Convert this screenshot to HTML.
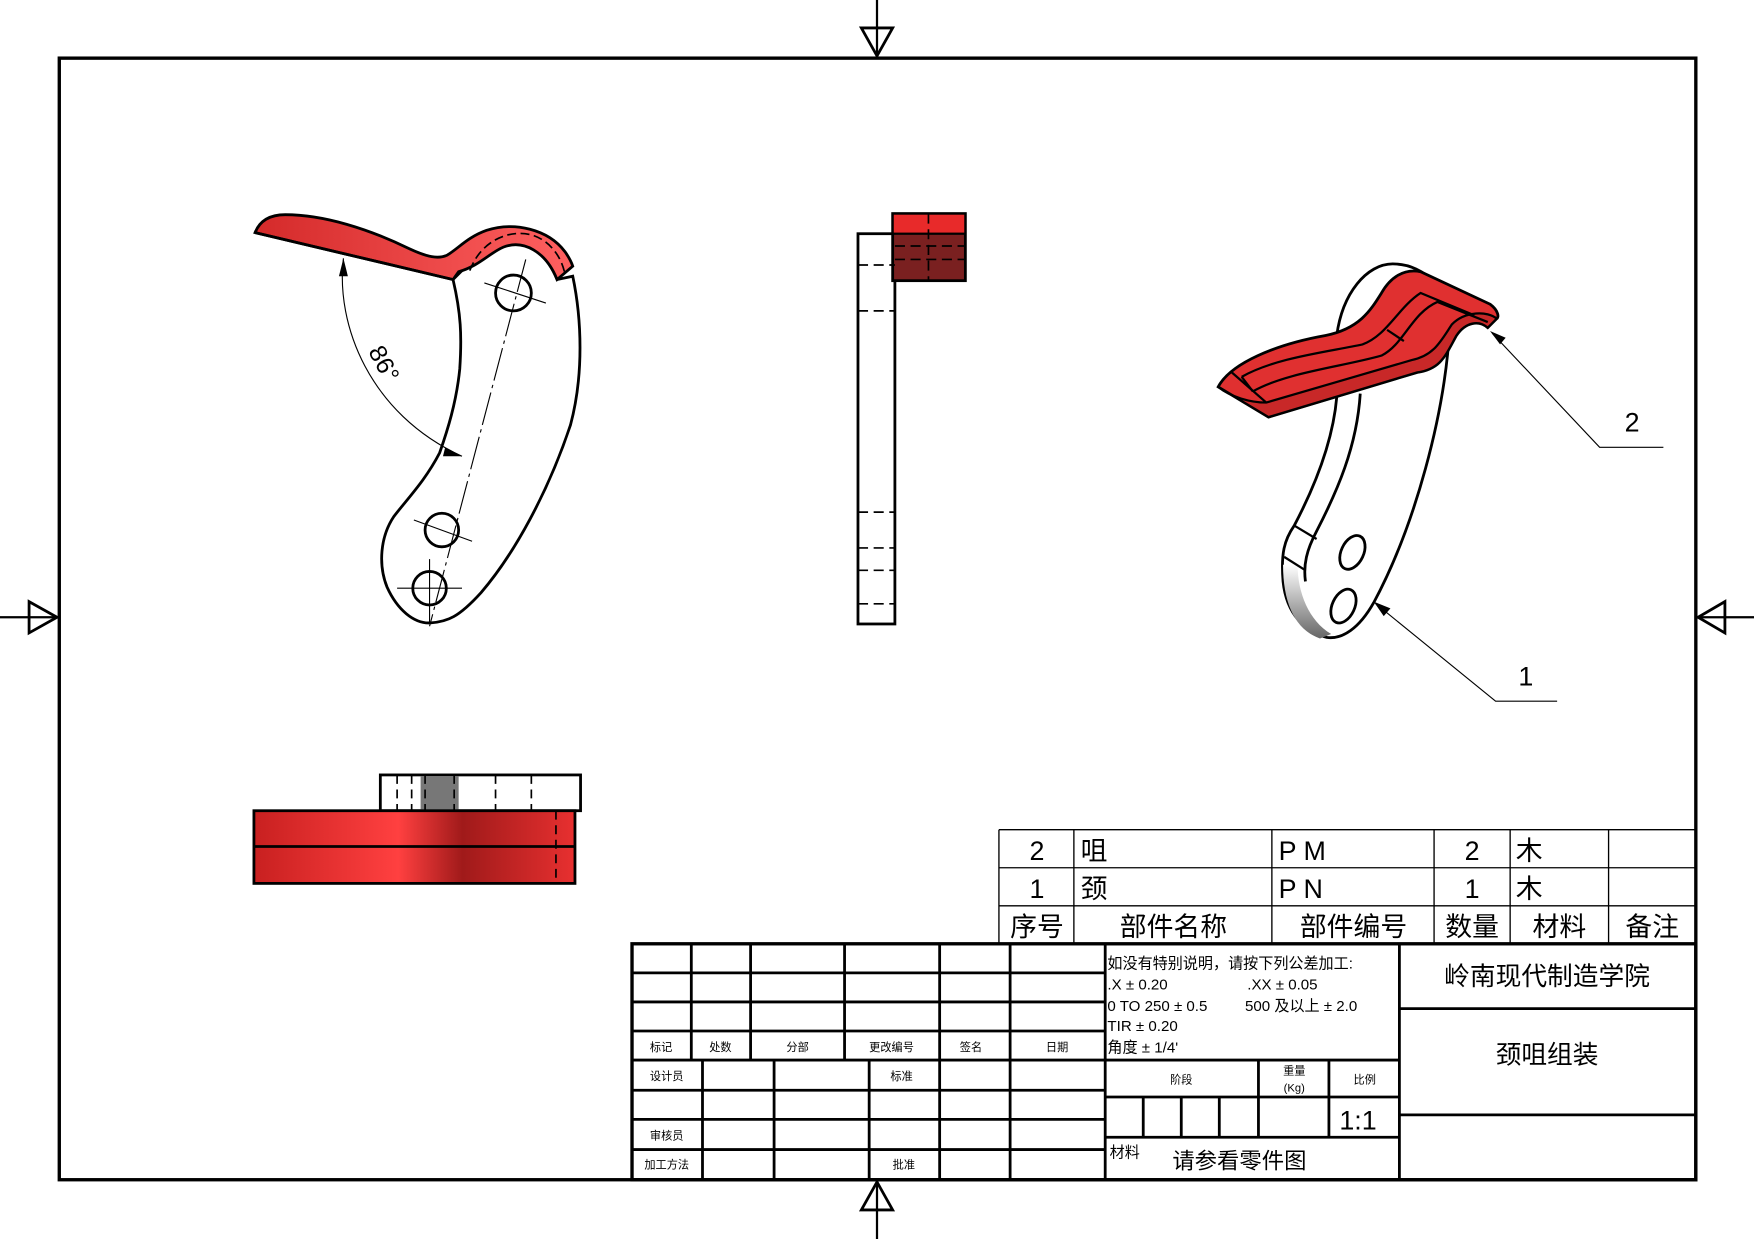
<!DOCTYPE html>
<html><head><meta charset="utf-8"><style>
html,body{margin:0;padding:0;background:#fff;}
svg{display:block;}
text{font-family:"Liberation Sans","Noto Sans CJK SC",sans-serif;fill:#000;}
</style></head><body>
<svg width="1754" height="1239" viewBox="0 0 1568 1108" preserveAspectRatio="none" xmlns="http://www.w3.org/2000/svg">
<defs>
<linearGradient id="rg" x1="0" x2="1" y1="0" y2="0"><stop offset="0" stop-color="#d42a2a"/><stop offset="1" stop-color="#ff6060"/></linearGradient>
<linearGradient id="rb" x1="0" x2="1"><stop offset="0" stop-color="#c82020"/><stop offset="0.45" stop-color="#ff4040"/><stop offset="0.65" stop-color="#a01a1a"/><stop offset="1" stop-color="#e83030"/></linearGradient>
<linearGradient id="gs" x1="0" x2="0" y1="0" y2="1"><stop offset="0" stop-color="#fff"/><stop offset="1" stop-color="#666"/></linearGradient>
</defs>
<g fill="none" stroke="#000">
<rect x="53" y="52" width="1463" height="1003" stroke-width="3"/>
<line x1="784" y1="0" x2="784" y2="52" stroke-width="2"/>
<polygon points="770,25 798,25 784,50" stroke-width="2.5"/>
<line x1="784" y1="1055" x2="784" y2="1108" stroke-width="2"/>
<polygon points="770,1082 798,1082 784,1057" stroke-width="2.5"/>
<line x1="0" y1="552" x2="53" y2="552" stroke-width="2"/>
<polygon points="26,538 26,566 51,552" stroke-width="2.5"/>
<line x1="1516" y1="552" x2="1568" y2="552" stroke-width="2"/>
<polygon points="1542,538 1542,566 1518,552" stroke-width="2.5"/>
</g>

<!-- FRONT VIEW -->
<path d="M405,250 C412,280 413,300 411,330 C408,360 400,385 393,405 C380,430 365,445 352,462 C340,480 338,505 346,525 C355,545 370,558 385,557 C400,556 410,552 430,530 C460,495 490,440 510,380 C522,335 520,285 512,247 L498,250 C488,225 470,215 453,219 C438,223 428,235 423,232 Z" fill="#fff" stroke="#000" stroke-width="2.5"/>
<path d="M228,208 C232,198 240,192 255,192 C290,192 330,205 365,222 C382,230 392,232 400,228 C410,222 418,212 435,206 C460,198 490,205 505,225 C510,232 512,238 512,238 L498,250 C488,225 468,214 450,221 C438,226 428,238 410,243 L405,250 Z" fill="url(#rg)" stroke="#000" stroke-width="2.5"/>
<path d="M420,242 C430,215 455,205 475,210 C492,215 502,230 505,245" fill="none" stroke="#000" stroke-width="1.5" stroke-dasharray="8,4"/>
<line x1="405" y1="250" x2="228" y2="208" stroke="#000" stroke-width="2.5"/>
<g stroke="#000" fill="#fff" stroke-width="2.5">
<circle cx="459" cy="262" r="16"/><circle cx="395" cy="474" r="15"/><circle cx="384" cy="526" r="15"/>
</g>
<g stroke="#000" stroke-width="1">
<line x1="470" y1="232" x2="384" y2="560" stroke-dasharray="30,4,3,4"/>
<line x1="433" y1="253" x2="488" y2="271"/>
<line x1="370" y1="465" x2="422" y2="484"/>
<line x1="355" y1="526" x2="413" y2="526"/><line x1="384" y1="500" x2="384" y2="558"/>
<path d="M307,231 C300,290 330,370 413,408" fill="none"/>
</g>
<polygon points="307,231 303,247 311,247" fill="#000"/>
<polygon points="413,408 398,400 396,408" fill="#000"/>
<text x="342" y="332" font-size="22" transform="rotate(62 342 326)" text-anchor="middle">86°</text>

<!-- SIDE VIEW -->
<rect x="767" y="209" width="33" height="349" fill="#fff" stroke="#000" stroke-width="2.5"/>
<rect x="798" y="191" width="65" height="60" fill="#7a2020" stroke="#000" stroke-width="2.5"/>
<rect x="798" y="191" width="65" height="18" fill="#e82a2a" stroke="#000" stroke-width="2"/>
<g stroke="#000" stroke-width="1.5" stroke-dasharray="9,5">
<line x1="830" y1="191" x2="830" y2="251"/>
<line x1="800" y1="220" x2="863" y2="220"/><line x1="800" y1="232" x2="863" y2="232"/>
<line x1="767" y1="237" x2="800" y2="237"/><line x1="767" y1="278" x2="800" y2="278"/>
<line x1="767" y1="458" x2="800" y2="458"/><line x1="767" y1="490" x2="800" y2="490"/>
<line x1="767" y1="510" x2="800" y2="510"/><line x1="767" y1="540" x2="800" y2="540"/>
</g>

<!-- BOTTOM VIEW -->
<rect x="340" y="693" width="179" height="32" fill="#fff" stroke="#000" stroke-width="2.5"/>
<rect x="376" y="694" width="34" height="30" fill="#777"/>
<rect x="227" y="725" width="287" height="65" fill="url(#rb)" stroke="#000" stroke-width="2.5"/>
<line x1="227" y1="757" x2="514" y2="757" stroke="#000" stroke-width="2.5"/>
<g stroke="#000" stroke-width="1.5" stroke-dasharray="8,5">
<line x1="497" y1="725" x2="497" y2="790"/>
<line x1="355" y1="693" x2="355" y2="725"/><line x1="368" y1="693" x2="368" y2="725"/>
<line x1="380" y1="693" x2="380" y2="725"/><line x1="406" y1="693" x2="406" y2="725"/>
<line x1="443" y1="693" x2="443" y2="725"/><line x1="475" y1="693" x2="475" y2="725"/>
</g>

<!-- ISO VIEW -->
<path d="M1195,300 C1200,262 1222,236 1245,236 C1275,236 1298,262 1296,292 C1292,370 1265,470 1228,539 C1215,562 1200,572 1186,570 C1168,566 1150,550 1147,520 C1145,495 1148,483 1157,470 C1178,430 1192,390 1195,355 Z" fill="#fff" stroke="#000" stroke-width="2.5"/>
<path d="M1147,505 C1147,540 1158,563 1180,571 L1190,567 C1170,555 1160,530 1160,505 Z" fill="url(#gs)"/>
<path d="M1216,352 C1213,400 1195,440 1177,475 C1168,492 1165,505 1167,520" fill="none" stroke="#000" stroke-width="2.5"/>
<line x1="1157" y1="470" x2="1177" y2="482" stroke="#000" stroke-width="2"/>
<line x1="1148" y1="498" x2="1167" y2="510" stroke="#000" stroke-width="2"/>
<ellipse cx="1209" cy="494" rx="10" ry="16" transform="rotate(25 1209 494)" fill="#fff" stroke="#000" stroke-width="2.5"/>
<ellipse cx="1201" cy="542" rx="10" ry="16" transform="rotate(25 1201 542)" fill="#fff" stroke="#000" stroke-width="2.5"/>
<path d="M1089,346 C1100,325 1140,308 1185,300 C1215,294 1225,278 1235,262 C1243,248 1255,240 1270,243 L1332,272 C1340,278 1340,284 1338,285 L1330,293 C1322,286 1310,288 1302,300 C1292,318 1288,330 1267,333 L1134,373 Z" fill="#e03030" stroke="#000" stroke-width="2.5"/>
<path d="M1089,346 L1134,373 L1267,333 C1288,330 1292,318 1302,300 C1310,288 1322,286 1330,293 L1338,285 C1330,278 1310,278 1298,290 C1288,305 1282,318 1262,322 L1132,360 C1118,360 1100,355 1089,346 Z" fill="#c82828" stroke="#000" stroke-width="2"/>
<g fill="none" stroke="#000" stroke-width="2">
<path d="M1110,337 C1140,320 1185,315 1218,308 C1240,300 1250,275 1270,262 L1318,282"/>
<path d="M1120,350 C1150,333 1200,328 1235,318 C1255,308 1262,280 1285,270 L1330,288"/>
<line x1="1110" y1="337" x2="1120" y2="350"/>
<line x1="1100" y1="332" x2="1132" y2="360"/>
<line x1="1240" y1="295" x2="1255" y2="305"/>
</g>

<!-- leaders -->
<g stroke="#000" stroke-width="1" fill="none">
<polyline points="1334,298 1430,400 1487,400"/>
<polyline points="1230,540 1337,627 1392,627"/>
</g>
<polygon points="1332,296 1346,302 1341,308" fill="#000"/>
<polygon points="1228,538 1243,544 1237,551" fill="#000"/>
<text x="1459" y="386" font-size="24" text-anchor="middle">2</text>
<text x="1364" y="613" font-size="24" text-anchor="middle">1</text>

<!-- PARTS LIST -->
<g stroke="#000" stroke-width="1.2" fill="none">
<line x1="893" y1="742" x2="1515" y2="742"/><line x1="893" y1="776" x2="1515" y2="776"/><line x1="893" y1="810" x2="1515" y2="810"/>
<line x1="893" y1="742" x2="893" y2="844"/><line x1="960" y1="742" x2="960" y2="844"/><line x1="1137" y1="742" x2="1137" y2="844"/>
<line x1="1282" y1="742" x2="1282" y2="844"/><line x1="1350" y1="742" x2="1350" y2="844"/><line x1="1438" y1="742" x2="1438" y2="844"/>
</g>
<g font-size="24">
<text x="927" y="769" text-anchor="middle">2</text><text x="966" y="769">咀</text><text x="1143" y="769">P M</text><text x="1316" y="769" text-anchor="middle">2</text><text x="1355" y="769">木</text>
<text x="927" y="803" text-anchor="middle">1</text><text x="966" y="803">颈</text><text x="1143" y="803">P N</text><text x="1316" y="803" text-anchor="middle">1</text><text x="1355" y="803">木</text>
<text x="927" y="837" text-anchor="middle">序号</text><text x="1049" y="837" text-anchor="middle">部件名称</text><text x="1210" y="837" text-anchor="middle">部件编号</text><text x="1316" y="837" text-anchor="middle">数量</text><text x="1394" y="837" text-anchor="middle">材料</text><text x="1477" y="837" text-anchor="middle">备注</text>
</g>

<!-- TITLE BLOCK -->
<g stroke="#000" fill="none">
<rect x="565" y="844" width="951" height="211" stroke-width="3"/>
<g stroke-width="2.5">
<line x1="565" y1="870" x2="988" y2="870"/><line x1="565" y1="896" x2="988" y2="896"/><line x1="565" y1="922" x2="988" y2="922"/><line x1="565" y1="948" x2="1251" y2="948"/>
<line x1="565" y1="975" x2="988" y2="975"/><line x1="565" y1="1001" x2="988" y2="1001"/><line x1="565" y1="1028" x2="988" y2="1028"/>
<line x1="618" y1="844" x2="618" y2="948"/><line x1="671" y1="844" x2="671" y2="948"/><line x1="755" y1="844" x2="755" y2="948"/><line x1="840" y1="844" x2="840" y2="948"/><line x1="903" y1="844" x2="903" y2="1055"/>
<line x1="628" y1="948" x2="628" y2="1055"/><line x1="692" y1="948" x2="692" y2="1055"/><line x1="777" y1="948" x2="777" y2="1055"/><line x1="840" y1="948" x2="840" y2="1055"/>
<line x1="988" y1="844" x2="988" y2="1055"/><line x1="1251" y1="844" x2="1251" y2="1055"/>
<line x1="988" y1="981" x2="1251" y2="981"/><line x1="988" y1="1017" x2="1251" y2="1017"/>
<line x1="1125" y1="948" x2="1125" y2="1017"/><line x1="1188" y1="948" x2="1188" y2="1017"/>
<line x1="1022" y1="981" x2="1022" y2="1017"/><line x1="1056" y1="981" x2="1056" y2="1017"/><line x1="1090" y1="981" x2="1090" y2="1017"/>
<line x1="1251" y1="902" x2="1516" y2="902"/><line x1="1251" y1="997" x2="1516" y2="997"/>
</g>
</g>
<g font-size="10" text-anchor="middle" fill="#333">
<text x="591" y="940">标记</text><text x="644" y="940">处数</text><text x="713" y="940">分部</text><text x="797" y="940">更改编号</text><text x="868" y="940">签名</text><text x="945" y="940">日期</text>
<text x="596" y="966">设计员</text><text x="806" y="966">标准</text><text x="596" y="1019">审核员</text><text x="596" y="1045">加工方法</text><text x="808" y="1045">批准</text>
<text x="1056" y="969">阶段</text><text x="1157" y="961">重量</text><text x="1157" y="976">(Kg)</text><text x="1220" y="969">比例</text>
</g>
<g font-size="13.5">
<text x="990" y="866">如没有特别说明，请按下列公差加工:</text>
<text x="990" y="885">.X ± 0.20</text><text x="1115" y="885">.XX ± 0.05</text>
<text x="990" y="904">0 TO 250 ± 0.5</text><text x="1113" y="904">500 及以上 ± 2.0</text>
<text x="990" y="922">TIR ± 0.20</text><text x="990" y="941">角度 ± 1/4'</text>
<text x="992" y="1035">材料</text>
</g>
<text x="1048" y="1045" font-size="20">请参看零件图</text>
<text x="1214" y="1010" font-size="24" text-anchor="middle">1:1</text>
<text x="1383" y="881" font-size="23" text-anchor="middle">岭南现代制造学院</text>
<text x="1383" y="951" font-size="23" text-anchor="middle">颈咀组装</text>
</svg>
</body></html>
